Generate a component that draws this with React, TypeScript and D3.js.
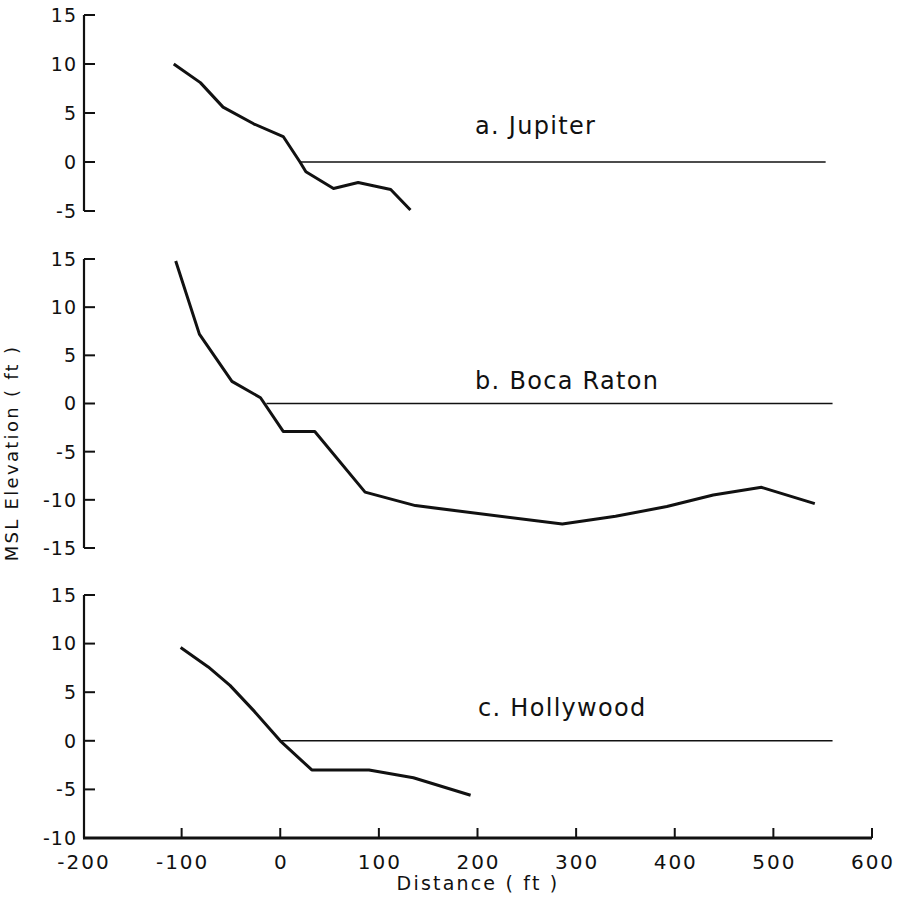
import React from 'react';
import * as d3 from 'd3';

// x axis (shared)
const xTicks = [-200, -100, 0, 100, 200, 300, 400, 500, 600];

// a. Jupiter
const jupiterDist = [-108, -81, -58, -27, 3, 20, 26, 54, 79, 112, 132];
const jupiterElev = [10.0, 8.1, 5.6, 3.9, 2.6, 0, -1.0, -2.7, -2.1, -2.8, -4.9];

// b. Boca Raton
const bocaDist = [-106, -82, -49, -20, 3, 35, 86, 137, 286, 340, 392, 439, 488, 542];
const bocaElev = [14.8, 7.2, 2.3, 0.6, -2.9, -2.9, -9.2, -10.6, -12.5, -11.7, -10.7, -9.5, -8.7, -10.4];

// c. Hollywood
const hollyDist = [-101, -73, -51, -26, 0, 32, 90, 135, 193];
const hollyElev = [9.6, 7.6, 5.7, 3.0, 0, -3.0, -3.0, -3.8, -5.6];

const panelTitles = ['a. Jupiter', 'b. Boca Raton', 'c. Hollywood'];
const yTicksTop = [-5, 0, 5, 10, 15];
const yTicksMid = [-15, -10, -5, 0, 5, 10, 15];
const yTicksBot = [-10, -5, 0, 5, 10, 15];
// mean sea level reference line: start / end distance
const zeroStart = [20, -14, 0];
const zeroEnd = [553, 560, 560];

const FONT = '"DejaVu Sans", "Liberation Sans", sans-serif';
const AXIS_X = 84;

const x = d3.scaleLinear().domain([-200, 600]).range([83, 872]);

const panels = [
  { dist: jupiterDist, elev: jupiterElev, ticks: yTicksTop, y: d3.scaleLinear().domain([-5, 15]).range([211, 15]), title: [475, 134] },
  { dist: bocaDist, elev: bocaElev, ticks: yTicksMid, y: d3.scaleLinear().domain([-15, 15]).range([548, 259]), title: [475, 389] },
  { dist: hollyDist, elev: hollyElev, ticks: yTicksBot, y: d3.scaleLinear().domain([-10, 15]).range([838, 595]), title: [478, 716] },
];

const fmt = (v: number) => (v < 0 ? '-' + Math.abs(v) : String(v));

export default function App() {
  const bottomY = panels[2].y(-10);
  return (
    <svg width={902} height={901} style={{ position: 'absolute', left: 0, top: 0, background: '#fff' }}>
      {panels.map((p, i) => {
        const pts = p.dist.map((d, k) => [d, p.elev[k]] as [number, number]);
        const line = d3.line<[number, number]>().x((d) => x(d[0])).y((d) => p.y(d[1]));
        const [y0, y1] = p.y.domain();
        return (
          <g key={i}>
            {/* y axis */}
            <line x1={AXIS_X} x2={AXIS_X} y1={p.y(y0)} y2={p.y(y1)} stroke="#111" strokeWidth={2.2} />
            {p.ticks.map((t) => (
              <g key={t}>
                <line x1={AXIS_X} x2={AXIS_X + 11} y1={p.y(t)} y2={p.y(t)} stroke="#111" strokeWidth={2} />
                <text
                  x={77}
                  y={p.y(t)}
                  dy="0.36em"
                  textAnchor="end"
                  fontFamily={FONT}
                  fontSize={19}
                  letterSpacing={1}
                  fill="#111"
                >
                  {fmt(t)}
                </text>
              </g>
            ))}
            {/* zero (MSL) line */}
            <line x1={x(zeroStart[i])} x2={x(zeroEnd[i])} y1={p.y(0)} y2={p.y(0)} stroke="#111" strokeWidth={1.5} />
            {/* profile */}
            <path d={line(pts) || ''} fill="none" stroke="#111" strokeWidth={3} strokeLinejoin="round" />
            <text x={p.title[0]} y={p.title[1]} fontFamily={FONT} fontSize={24} letterSpacing={1.3} fill="#111">
              {panelTitles[i]}
            </text>
          </g>
        );
      })}

      {/* x axis */}
      <line x1={x(-200)} x2={x(600)} y1={bottomY} y2={bottomY} stroke="#111" strokeWidth={3} />
      {xTicks.map((t) => (
        <g key={t}>
          {t !== -200 && <line x1={x(t)} x2={x(t)} y1={bottomY} y2={bottomY - 10} stroke="#111" strokeWidth={2} />}
          <text
            x={x(t) + 1}
            y={869}
            textAnchor="middle"
            fontFamily={FONT}
            fontSize={20}
            letterSpacing={2}
            fill="#111"
          >
            {fmt(t)}
          </text>
        </g>
      ))}
      <text x={478} y={890} textAnchor="middle" fontFamily={FONT} fontSize={19} letterSpacing={2.2} fill="#111">
        Distance ( ft )
      </text>
      <text
        transform="translate(18,453) rotate(-90)"
        textAnchor="middle"
        fontFamily={FONT}
        fontSize={18}
        letterSpacing={2.3}
        fill="#111"
      >
        MSL Elevation  ( ft )
      </text>
    </svg>
  );
}
